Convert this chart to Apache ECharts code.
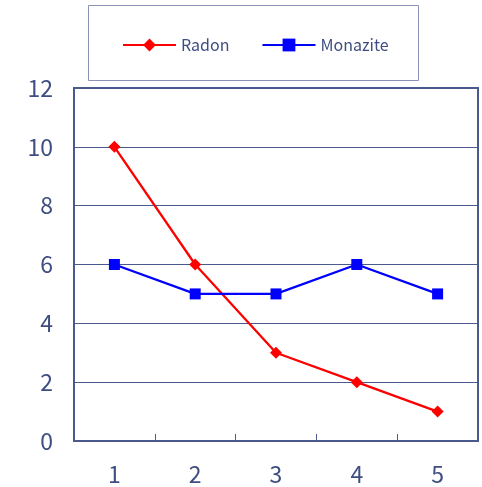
<!DOCTYPE html>
<html>
<head>
<meta charset="utf-8">
<script src="https://cdn.jsdelivr.net/npm/echarts@6/dist/echarts.min.js"></script>
<style>
  html, body { margin: 0; padding: 0; background: #fff; }
  #chart { width: 482px; height: 487px; }
</style>
</head>
<body>
<div id="chart"></div>
<script>
// Sample positions along the x axis
const categories = ['1', '2', '3', '4', '5'];
// Measured activity per sample
const radon = [10, 6, 3, 2, 1];
const monazite = [6, 5, 5, 6, 5];

const navy = '#4A5A8C';
const textNavy = '#3E4E82';
const font = '"Noto Sans CJK JP", "Noto Sans", sans-serif';

const chart = echarts.init(document.getElementById('chart'));
chart.setOption({
  animation: false,
  textStyle: { fontFamily: font },
  graphic: [{
    type: 'rect',
    shape: { x: 88.5, y: 5.5, width: 330, height: 75 },
    style: { fill: 'none', stroke: '#8A93B5', lineWidth: 1 },
    silent: true
  }],
  legend: {
    top: 32,
    left: 117,
    itemWidth: 53,
    itemHeight: 16,
    itemGap: 32,
    textStyle: { color: textNavy, fontSize: 16, fontFamily: font },
    data: ['Radon', 'Monazite']
  },
  grid: {
    left: 74, right: 4, top: 88, bottom: 46,
    show: true,
    borderColor: navy,
    borderWidth: 2
  },
  xAxis: {
    type: 'category',
    data: categories,
    boundaryGap: true,
    axisLine: { lineStyle: { color: navy, width: 2 } },
    axisTick: { show: true, inside: true, length: 7, lineStyle: { color: navy, width: 1 } },
    axisLabel: { color: textNavy, fontSize: 23, margin: 22, fontFamily: font },
    splitLine: { show: false }
  },
  yAxis: {
    type: 'value',
    min: 0, max: 12, interval: 2,
    axisLine: { show: true, lineStyle: { color: navy, width: 2 } },
    axisTick: { show: false },
    axisLabel: { color: textNavy, fontSize: 23, margin: 21, fontFamily: font },
    splitLine: { lineStyle: { color: navy, width: 1 } }
  },
  series: [
    {
      name: 'Radon',
      type: 'line',
      data: radon,
      symbol: 'diamond',
      symbolSize: 12,
      itemStyle: { color: '#FF0000' },
      lineStyle: { color: '#FF0000', width: 2.3 }
    },
    {
      name: 'Monazite',
      type: 'line',
      data: monazite,
      symbol: 'rect',
      symbolSize: 11,
      itemStyle: { color: '#0000FF' },
      lineStyle: { color: '#0000FF', width: 2.3 }
    }
  ]
});
</script>
</body>
</html>
